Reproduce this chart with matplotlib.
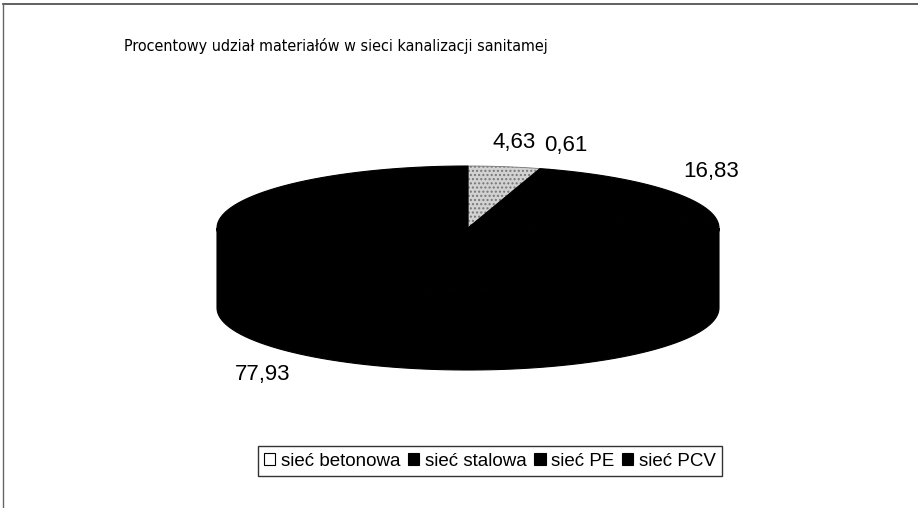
import numpy as np
import matplotlib
matplotlib.use("Agg")
import matplotlib.pyplot as plt
from matplotlib.patches import Polygon, Patch
from matplotlib.lines import Line2D

plt.rcParams['font.family'] = ['Liberation Sans', 'DejaVu Sans']

TITLE = "Procentowy udział materiałów w sieci kanalizacji sanitamej"
labels = ["sieć betonowa", "sieć stalowa", "sieć PE", "sieć PCV"]
values = [4.63, 0.61, 16.83, 77.93]
value_text = ["4,63", "0,61", "16,83", "77,93"]
colors = ["#d2d2d2", "#000000", "#000000", "#000000"]
legend_colors = ["#ffffff", "#000000", "#000000", "#000000"]

# pie geometry in pixels
CX, CY = 468, 228
A, B = 251, 62
DEPTH = 80


def ell(t, dy=0.0):
    t = np.radians(t)
    return np.column_stack([CX + A * np.cos(t), CY - B * np.sin(t) + dy])


fig = plt.figure(figsize=(9.18, 5.08), dpi=100)
ax = fig.add_axes([0, 0, 1, 1])
ax.set_xlim(0, 918)
ax.set_ylim(508, 0)
ax.axis('off')

# outer chart frame (only top and left survive in the scan)
fig.add_artist(Line2D([0.003, 1.0], [0.992, 0.992], color="#444444", lw=1.2))
fig.add_artist(Line2D([0.003, 0.003], [0.0, 0.992], color="#666666", lw=1.0))

frac = np.array(values) / np.sum(values)
ends = 90 - np.cumsum(frac) * 360
starts = np.concatenate([[90], ends[:-1]])

# sides (front half only)
for s, e, c in zip(starts, ends, colors):
    for k in (-360, 0, 360):
        lo = max(e, -180 + k)
        hi = min(s, 0 + k)
        if hi > lo:
            t = np.linspace(hi, lo, 80)
            top = ell(t)
            bot = ell(t[::-1], DEPTH)
            ax.add_patch(Polygon(np.vstack([top, bot]), closed=True,
                                 facecolor=c, edgecolor=c, lw=0.8))

# top faces
for i, (s, e, c) in enumerate(zip(starts, ends, colors)):
    t = np.linspace(s, e, 120)
    pts = np.vstack([[CX, CY], ell(t)])
    if i == 0:
        ax.add_patch(Polygon(pts, closed=True, facecolor=c, edgecolor="#777777",
                             hatch="....", lw=0.6))
    else:
        ax.add_patch(Polygon(pts, closed=True, facecolor=c, edgecolor=c, lw=0.8))

# value labels
for s, e, txt in zip(starts, ends, value_text):
    m = np.radians((s + e) / 2)
    x = CX + 1.28 * A * np.cos(m)
    y = CY - 1.4 * B * np.sin(m)
    if np.sin(m) < 0:
        y += DEPTH
    ax.text(x, y, txt, ha='center', va='center', fontsize=16, color='black')

ax.text(336, 46, TITLE, ha='center', va='center', fontsize=11.5,
        family=['DejaVu Sans'], fontstretch='condensed')

handles = [Patch(facecolor=c, edgecolor='black', lw=0.8) for c in legend_colors]
leg = fig.legend(handles, labels, loc='center', ncol=4,
                 bbox_to_anchor=(490 / 918, 1 - 461 / 508),
                 fontsize=13.5, frameon=True, fancybox=False,
                 handlelength=0.6, handleheight=0.6, handletextpad=0.3,
                 columnspacing=0.4, borderpad=0.35, borderaxespad=0)
leg.get_frame().set_edgecolor('black')
leg.get_frame().set_linewidth(1.0)

fig.savefig("out.png", dpi=100, facecolor='white')
